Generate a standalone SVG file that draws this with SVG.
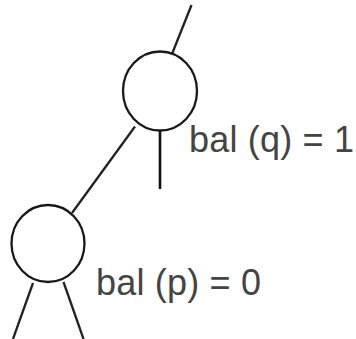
<svg xmlns="http://www.w3.org/2000/svg" width="356" height="339" viewBox="0 0 356 339">
<style>
.node{fill:#fff;stroke:#1a1a1a;stroke-width:2.3}
.edge{stroke:#222;stroke-width:2.3;fill:none;stroke-linecap:butt}
.lbl{font-family:"Liberation Sans",Arial,sans-serif;font-size:36px;fill:#444}
</style>
<rect width="356" height="339" fill="#fff"/>
<g id="connectors">
<line class="edge" x1="191.5" y1="5" x2="172" y2="54"/>
<line class="edge" x1="135" y1="126.5" x2="72" y2="213"/>
<line class="edge" x1="160" y1="131" x2="160" y2="189" style="stroke:#111;stroke-width:2.6"/>
<line class="edge" x1="33" y1="283" x2="13" y2="339"/>
<line class="edge" x1="63.5" y1="282" x2="83.5" y2="339"/>
</g>
<g id="q">
<ellipse class="node" cx="160" cy="91" rx="37" ry="39.5"/>
<text class="lbl" x="189" y="152" textLength="165" lengthAdjust="spacing">bal (q) = 1</text>
</g>
<g id="p">
<ellipse class="node" cx="48" cy="243.5" rx="36.5" ry="38.5"/>
<text class="lbl" x="96" y="295" textLength="165" lengthAdjust="spacing">bal (p) = 0</text>
</g>
</svg>
